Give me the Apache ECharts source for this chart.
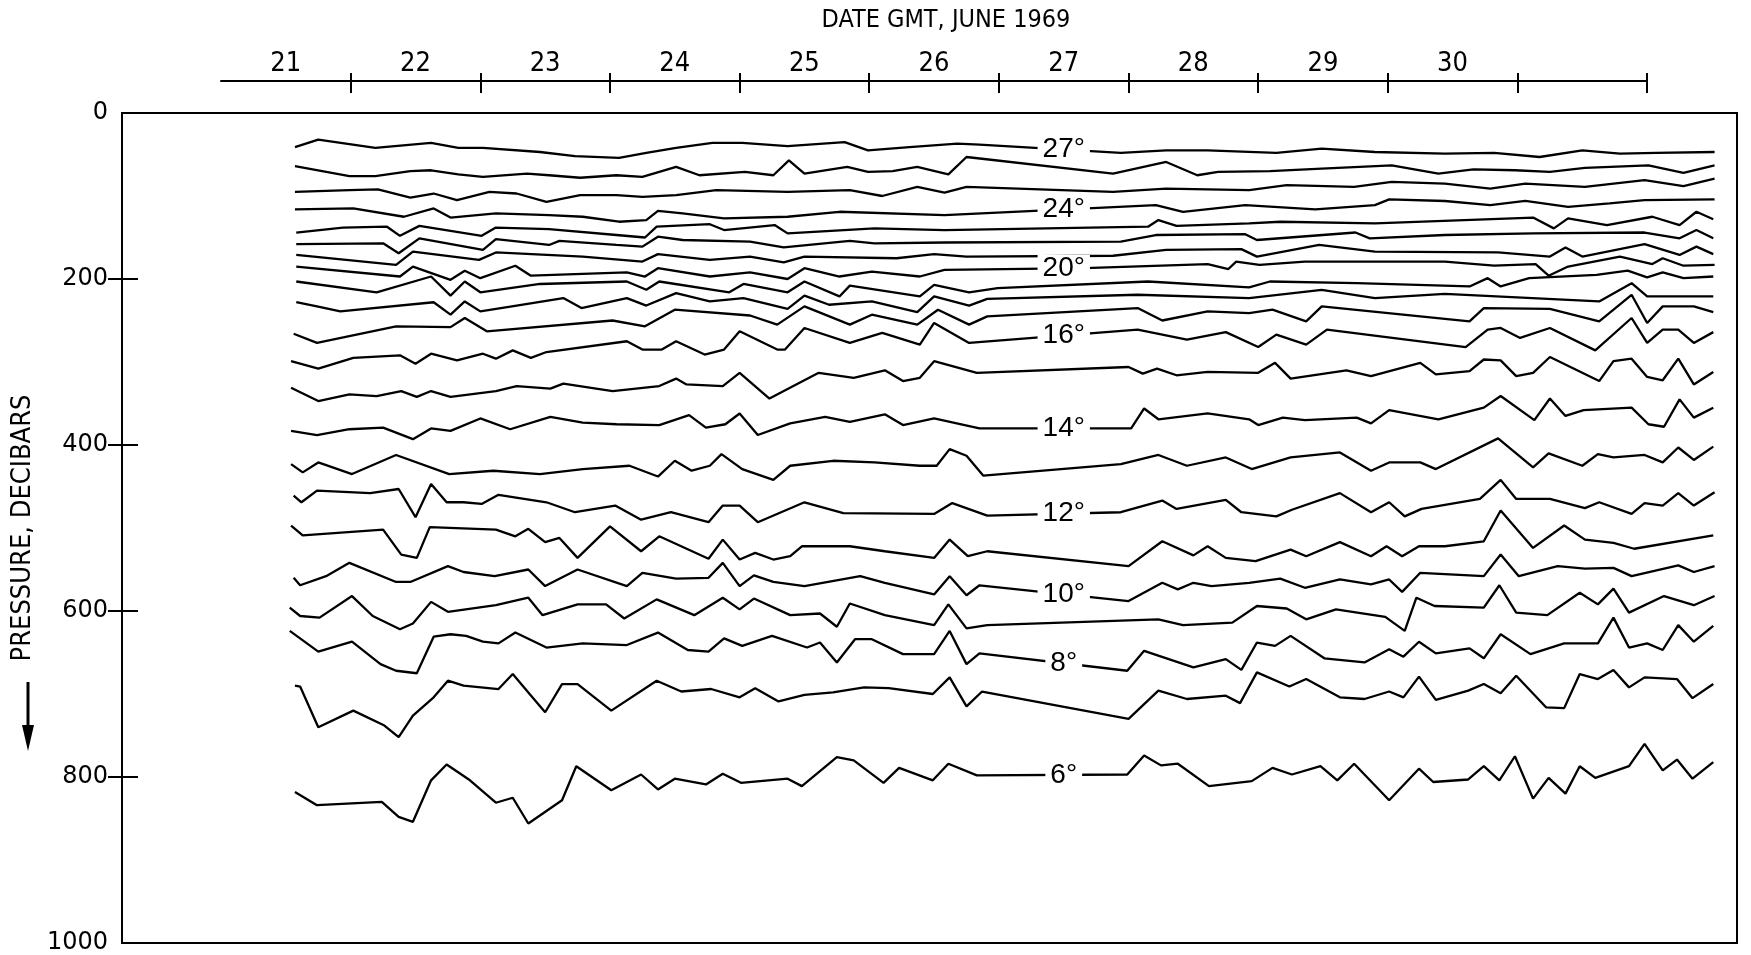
<!DOCTYPE html>
<html><head><meta charset="utf-8">
<script src="https://cdn.jsdelivr.net/npm/echarts@6/dist/echarts.min.js"></script>
<style>html,body{margin:0;padding:0;background:#fff}#c{width:1751px;height:955px}</style>
</head><body><div id="c"></div>
<script>
// ---- tick labels / categories ----
const dayLabels = ['21','22','23','24','25','26','27','28','29','30'];
const dayTicks = [22,23,24,25,26,27,28,29,30,31,32];
const pressureTickMarks = [200,400,600,800];
const labelDay = 27.5;

// ---- isotherm depths: [day of June (GMT), pressure dbar] ----
const iso27 = [[21.57,41],[21.75,32],[22.19,42],[22.62,36],[22.83,42],[23.02,42],[23.46,47],[23.73,52],[24.07,54],[24.28,48],[24.51,42],[24.79,36],[25.02,36],[25.37,40],[25.81,35],[25.99,45],[26.31,41],[26.68,37],[26.85,38],[27.94,48],[28.29,45],[28.61,45],[29.14,48],[29.49,43],[29.90,47],[30.44,49],[30.82,48],[31.17,53],[31.50,45],[31.79,49],[32.07,48],[32.52,47]];
const iso26 = [[21.57,64],[21.99,76],[22.19,76],[22.46,70],[22.62,69],[22.83,74],[23.02,77],[23.36,73],[23.53,75],[23.77,78],[24.05,75],[24.25,77],[24.51,65],[24.69,75],[25.04,71],[25.26,75],[25.38,57],[25.50,73],[25.83,65],[25.99,71],[26.18,70],[26.37,65],[26.61,74],[26.75,53],[27.88,73],[28.29,59],[28.53,75],[28.69,71],[29.09,70],[29.49,67],[30.03,63],[30.39,73],[30.66,68],[30.98,69],[31.25,71],[31.52,66],[32.01,63],[32.28,72],[32.52,63]];
const iso25 = [[21.57,95],[21.99,93],[22.21,92],[22.46,102],[22.64,97],[22.82,105],[23.07,95],[23.28,97],[23.51,107],[23.77,99],[24.05,99],[24.25,101],[24.51,99],[24.82,93],[25.37,95],[25.85,93],[26.10,100],[26.37,89],[26.58,96],[26.75,89],[27.88,95],[28.29,91],[28.93,93],[29.22,87],[29.74,89],[30.03,83],[30.44,85],[30.79,91],[31.06,85],[31.52,89],[31.98,81],[32.28,88],[32.52,79]];
const iso24 = [[21.57,116],[22.02,115],[22.41,125],[22.64,115],[22.77,126],[23.12,121],[23.53,123],[23.79,125],[24.07,131],[24.28,129],[24.37,118],[24.56,121],[24.88,127],[25.37,125],[25.77,119],[26.58,123],[28.21,111],[28.42,119],[28.90,111],[29.44,116],[29.90,111],[30.01,104],[30.44,106],[30.79,111],[31.06,106],[31.39,113],[31.71,109],[31.98,105],[32.52,104]];
const iso23 = [[21.58,144],[21.94,138],[22.28,137],[22.38,148],[22.53,136],[22.77,142],[23.01,148],[23.12,138],[23.53,140],[24.05,147],[24.27,150],[24.36,137],[24.77,134],[24.88,141],[25.27,135],[25.37,145],[26.04,139],[26.58,141],[28.15,137],[28.23,129],[28.37,136],[28.93,133],[29.17,131],[29.90,133],[31.12,126],[31.28,139],[31.39,127],[31.69,135],[32.04,125],[32.25,135],[32.38,119],[32.51,128]];
const iso22 = [[21.58,158],[22.25,157],[22.37,169],[22.53,151],[23.02,165],[23.12,152],[23.53,159],[23.61,154],[24.05,159],[24.25,161],[24.37,149],[24.56,153],[25.08,155],[25.34,162],[25.85,154],[26.04,157],[26.58,156],[27.94,155],[28.21,147],[28.90,146],[28.99,153],[29.75,144],[29.86,151],[30.44,147],[31.12,145],[31.98,144],[32.25,151],[32.38,141],[32.51,151]];
const iso21 = [[21.58,171],[22.35,183],[22.48,167],[22.99,177],[23.12,168],[23.79,173],[24.25,179],[24.37,170],[24.77,177],[25.08,173],[25.34,180],[25.50,173],[26.21,175],[26.50,170],[26.75,173],[27.88,172],[28.29,165],[28.87,164],[28.99,173],[29.47,159],[29.90,167],[30.85,168],[31.25,173],[31.37,162],[31.50,173],[31.98,158],[32.25,171],[32.38,161],[32.51,170]];
const iso20 = [[21.58,185],[22.38,197],[22.48,185],[22.77,201],[22.88,190],[23.00,199],[23.27,184],[23.39,196],[24.13,192],[24.27,197],[24.37,187],[24.77,197],[25.08,192],[25.37,200],[25.50,187],[25.77,197],[26.02,191],[26.39,197],[26.58,189],[27.66,187],[28.61,182],[28.77,188],[28.83,179],[29.01,183],[29.36,179],[30.44,179],[30.82,184],[31.14,182],[31.24,196],[31.39,185],[31.79,173],[32.04,182],[32.12,175],[32.28,184],[32.52,183]];
const iso19 = [[21.58,203],[22.20,216],[22.62,197],[22.77,220],[22.88,203],[23.00,216],[23.46,206],[24.13,203],[24.28,213],[24.38,203],[24.92,216],[25.03,206],[25.37,216],[25.50,203],[25.77,221],[25.85,208],[26.39,221],[26.50,207],[26.77,216],[26.99,211],[28.15,203],[28.93,210],[29.09,203],[29.76,205],[30.63,209],[30.77,199],[30.87,209],[31.09,199],[31.61,195],[31.85,190],[32.00,198],[32.12,192],[32.28,199],[32.51,197]];
const iso18 = [[21.58,228],[21.74,233],[21.92,239],[22.64,228],[22.77,243],[22.88,227],[23.00,239],[23.28,232],[23.64,223],[23.78,235],[24.13,223],[24.28,232],[24.51,217],[24.77,227],[25.03,223],[25.37,236],[25.50,220],[25.69,231],[26.02,227],[26.37,240],[26.50,221],[26.77,232],[26.91,224],[28.07,219],[28.93,223],[29.49,213],[29.90,223],[30.44,218],[31.63,227],[31.88,205],[32.00,221],[32.51,221]];
const iso17 = [[21.56,266],[21.74,277],[22.35,257],[22.77,258],[22.88,247],[23.05,263],[24.02,250],[24.27,257],[24.50,237],[25.08,244],[25.29,255],[25.50,233],[25.85,255],[26.02,243],[26.37,255],[26.53,237],[26.77,255],[26.91,245],[28.07,235],[28.26,250],[28.61,239],[28.93,241],[29.11,237],[29.37,251],[29.49,233],[30.63,251],[30.74,235],[31.25,236],[31.63,251],[31.88,219],[32.00,253],[32.12,233],[32.36,233],[32.51,240]];
const iso16 = [[21.54,299],[21.75,308],[22.02,295],[22.38,292],[22.50,302],[22.62,290],[22.82,298],[23.02,290],[23.12,296],[23.25,286],[23.39,295],[23.51,288],[24.13,275],[24.25,285],[24.40,285],[24.51,275],[24.73,291],[24.88,285],[25.00,263],[25.29,285],[25.35,285],[25.50,259],[25.85,277],[26.10,265],[26.39,279],[26.50,253],[26.77,277],[28.07,261],[28.45,273],[28.75,264],[29.00,282],[29.14,267],[29.37,279],[29.53,261],[30.60,282],[30.77,261],[30.87,259],[31.02,271],[31.25,259],[31.60,286],[31.88,247],[32.00,277],[32.12,261],[32.24,261],[32.36,277],[32.51,264]];
const iso15 = [[21.54,331],[21.75,347],[21.99,339],[22.20,341],[22.39,335],[22.51,342],[22.62,335],[22.77,342],[23.12,335],[23.28,329],[23.54,332],[23.64,326],[24.02,335],[24.38,329],[24.51,320],[24.59,327],[24.87,329],[25.00,313],[25.23,344],[25.61,313],[25.88,319],[26.12,310],[26.26,323],[26.39,319],[26.50,299],[26.83,313],[28.00,306],[28.11,314],[28.22,308],[28.37,316],[28.61,312],[29.00,313],[29.13,301],[29.25,320],[29.68,310],[29.87,317],[30.25,301],[30.37,315],[30.63,311],[30.74,297],[30.87,298],[30.99,317],[31.12,313],[31.25,294],[31.63,323],[31.74,299],[31.88,296],[32.00,318],[32.12,322],[32.24,296],[32.36,327],[32.51,312]];
const iso14 = [[21.54,383],[21.74,388],[21.99,381],[22.25,379],[22.48,393],[22.62,380],[22.77,383],[23.00,368],[23.23,381],[23.54,366],[23.79,373],[24.05,375],[24.38,376],[24.61,364],[24.74,379],[24.89,375],[25.00,362],[25.14,388],[25.39,374],[25.66,366],[25.85,372],[26.12,363],[26.26,376],[26.50,368],[26.85,380],[28.02,380],[28.12,356],[28.23,369],[28.61,362],[28.93,369],[29.00,376],[29.19,367],[29.36,370],[29.76,367],[29.87,374],[30.01,358],[30.39,369],[30.74,355],[30.87,341],[31.13,370],[31.25,344],[31.37,365],[31.51,358],[31.88,355],[32.01,375],[32.13,378],[32.25,345],[32.36,367],[32.51,355]];
const iso13 = [[21.54,423],[21.63,433],[21.75,421],[22.01,435],[22.35,412],[22.76,435],[23.10,431],[23.46,435],[23.79,429],[24.15,425],[24.37,438],[24.50,419],[24.63,431],[24.77,425],[24.86,411],[25.02,429],[25.26,442],[25.39,425],[25.72,419],[26.04,421],[26.39,425],[26.52,425],[26.62,405],[26.75,413],[26.88,437],[27.94,423],[28.23,412],[28.45,425],[28.75,415],[28.95,429],[29.25,415],[29.63,409],[29.87,431],[30.01,421],[30.25,421],[30.37,429],[30.85,392],[31.12,427],[31.24,410],[31.50,425],[31.62,411],[31.74,415],[31.98,412],[32.12,421],[32.24,403],[32.36,418],[32.51,402]];
const iso12 = [[21.56,461],[21.62,469],[21.74,455],[22.15,458],[22.37,453],[22.50,487],[22.62,447],[22.74,469],[22.87,469],[23.01,471],[23.14,460],[23.51,469],[23.73,481],[24.04,473],[24.24,490],[24.47,481],[24.76,493],[24.87,473],[25.00,473],[25.14,493],[25.50,469],[25.80,482],[26.50,483],[26.64,470],[26.91,485],[27.94,481],[28.26,467],[28.37,477],[28.75,466],[28.87,481],[29.14,486],[29.26,478],[29.63,458],[29.87,481],[30.01,469],[30.13,486],[30.26,477],[30.71,465],[30.87,442],[30.99,465],[31.25,465],[31.52,476],[31.63,469],[31.88,483],[31.98,470],[32.12,473],[32.24,458],[32.36,473],[32.52,457]];
const iso11 = [[21.54,497],[21.63,509],[22.25,502],[22.39,532],[22.51,536],[22.61,499],[23.12,502],[23.27,510],[23.37,501],[23.50,517],[23.61,512],[23.75,536],[24.00,498],[24.24,528],[24.38,510],[24.76,537],[24.87,514],[25.00,538],[25.12,530],[25.26,538],[25.39,534],[25.48,522],[25.85,522],[26.12,528],[26.50,536],[26.62,514],[26.76,534],[26.91,528],[28.00,546],[28.26,516],[28.50,533],[28.61,522],[28.75,536],[28.98,540],[29.25,526],[29.37,534],[29.63,517],[29.87,534],[29.99,522],[30.11,534],[30.24,522],[30.44,522],[30.74,516],[30.87,479],[31.12,524],[31.36,497],[31.52,514],[31.74,518],[31.90,525],[32.51,509]];
const iso10 = [[21.56,560],[21.61,569],[21.81,558],[21.99,542],[22.35,565],[22.46,565],[22.75,546],[22.87,553],[23.11,558],[23.37,550],[23.50,570],[23.75,550],[24.13,570],[24.25,554],[24.51,561],[24.76,560],[24.87,542],[25.00,570],[25.11,557],[25.26,565],[25.50,570],[25.93,558],[26.12,566],[26.50,580],[26.62,558],[26.75,581],[26.85,569],[28.00,588],[28.26,566],[28.38,574],[28.50,566],[28.64,570],[28.93,566],[29.17,561],[29.36,572],[29.63,562],[29.87,568],[30.01,562],[30.11,577],[30.25,554],[30.74,558],[30.87,532],[31.01,558],[31.31,546],[31.52,549],[31.74,548],[31.88,558],[32.24,545],[32.36,553],[32.52,546]];
const iso9 = [[21.53,596],[21.61,606],[21.76,608],[22.01,582],[22.17,606],[22.38,622],[22.48,615],[22.62,589],[22.75,601],[23.12,593],[23.37,584],[23.48,605],[23.75,592],[23.97,592],[24.11,609],[24.36,586],[24.65,605],[24.87,584],[25.00,598],[25.11,585],[25.39,605],[25.62,603],[25.75,619],[25.85,591],[26.12,605],[26.50,617],[26.61,592],[26.75,621],[26.91,617],[28.23,610],[28.42,617],[28.80,614],[28.99,594],[29.22,597],[29.37,610],[29.60,598],[29.98,607],[30.13,624],[30.22,584],[30.36,594],[30.74,596],[30.86,569],[30.99,602],[31.23,605],[31.48,578],[31.62,592],[31.74,573],[31.86,602],[32.13,582],[32.36,593],[32.52,582]];
const iso8 = [[21.53,624],[21.75,649],[22.01,637],[22.23,664],[22.35,672],[22.51,675],[22.64,631],[22.77,628],[22.89,630],[23.02,637],[23.14,639],[23.27,626],[23.51,644],[23.79,639],[24.13,641],[24.37,626],[24.60,647],[24.76,649],[24.88,633],[25.02,642],[25.25,630],[25.52,644],[25.62,638],[25.75,662],[25.89,634],[26.02,634],[26.26,652],[26.50,652],[26.62,624],[26.75,664],[26.85,651],[27.99,672],[28.12,648],[28.50,668],[28.75,658],[28.87,671],[28.99,638],[29.13,642],[29.25,630],[29.51,657],[29.82,662],[30.01,646],[30.12,655],[30.24,637],[30.37,651],[30.63,645],[30.74,657],[30.87,628],[31.10,652],[31.36,639],[31.62,639],[31.74,608],[31.86,644],[32.00,639],[32.12,647],[32.24,617],[32.36,637],[32.51,618]];
const iso7 = [[21.57,690],[21.61,691],[21.75,740],[22.02,720],[22.26,738],[22.37,752],[22.48,726],[22.64,704],[22.75,684],[22.87,690],[23.14,694],[23.25,676],[23.38,700],[23.50,722],[23.63,688],[23.75,688],[24.01,720],[24.36,684],[24.55,697],[24.78,694],[25.00,704],[25.12,693],[25.30,709],[25.50,701],[25.72,698],[25.96,692],[26.15,693],[26.49,700],[26.62,680],[26.75,715],[26.87,697],[28.00,730],[28.23,696],[28.45,706],[28.75,702],[28.86,711],[28.99,674],[29.24,691],[29.37,682],[29.63,704],[29.82,706],[30.01,697],[30.12,704],[30.24,679],[30.37,707],[30.62,696],[30.74,688],[30.87,699],[30.99,678],[31.22,716],[31.36,717],[31.48,676],[31.62,682],[31.74,671],[31.86,692],[31.98,680],[32.23,682],[32.35,705],[32.51,688]];
const iso6 = [[21.57,818],[21.74,834],[22.24,830],[22.37,848],[22.48,854],[22.62,804],[22.74,785],[22.92,804],[23.12,831],[23.25,825],[23.37,856],[23.63,828],[23.74,787],[24.01,816],[24.24,797],[24.37,815],[24.50,802],[24.74,809],[24.87,796],[25.01,807],[25.37,802],[25.48,811],[25.75,776],[25.88,780],[26.11,807],[26.23,789],[26.49,804],[26.61,784],[26.83,798],[27.99,797],[28.12,774],[28.25,786],[28.38,784],[28.62,811],[28.95,805],[29.11,789],[29.26,797],[29.48,787],[29.61,804],[29.74,784],[30.01,828],[30.24,790],[30.35,806],[30.62,803],[30.74,787],[30.86,804],[30.98,775],[31.12,826],[31.24,801],[31.37,820],[31.48,787],[31.60,801],[31.86,787],[31.98,760],[32.12,792],[32.23,779],[32.35,802],[32.51,782]];

const isotherms = [
  {t:27,d:iso27,lab:true},{t:26,d:iso26},{t:25,d:iso25},{t:24,d:iso24,lab:true},
  {t:23,d:iso23},{t:22,d:iso22},{t:21,d:iso21},{t:20,d:iso20,lab:true},
  {t:19,d:iso19},{t:18,d:iso18},{t:17,d:iso17},{t:16,d:iso16,lab:true},
  {t:15,d:iso15},{t:14,d:iso14,lab:true},{t:13,d:iso13},{t:12,d:iso12,lab:true},
  {t:11,d:iso11},{t:10,d:iso10,lab:true},{t:9,d:iso9},{t:8,d:iso8,lab:true},
  {t:7,d:iso7},{t:6,d:iso6,lab:true}
];

function interp(arr, x){
  for(let i=0;i<arr.length-1;i++){
    const a=arr[i], b=arr[i+1];
    if(x>=a[0] && x<=b[0]){ return a[1]+(b[1]-a[1])*(x-a[0])/(b[0]-a[0]); }
  }
  return arr[arr.length-1][1];
}

const NARROW = "'Liberation Sans Narrow','DejaVu Sans Condensed','Liberation Sans',sans-serif";
const BLACK = '#000';

const series = isotherms.map(iso => ({
  type:'line', xAxisIndex:0, yAxisIndex:0, data: iso.d, showSymbol:false, symbol:'none',
  lineStyle:{color:BLACK, width:2.3}, silent:true, z:2
}));
series.push({
  type:'scatter', xAxisIndex:0, yAxisIndex:0, symbolSize:1, z:10, silent:true,
  itemStyle:{opacity:0},
  data: isotherms.filter(i=>i.lab).map(i => ({value:[labelDay, interp(i.d, labelDay)], name: i.t + '°'})),
  label:{show:true, position:'inside', formatter: p => p.name, color:BLACK, opacity:1,
    fontFamily:"'Liberation Sans',sans-serif", fontSize:28, backgroundColor:'#fff', padding:[0,5,0,5], lineHeight:27}
});

const chart = echarts.init(document.getElementById('c'), null, {renderer:'canvas'});
chart.setOption({
  animation:false,
  backgroundColor:'#fff',
  grid:[
    {left:122, right:14, top:113, bottom:11, show:true, borderColor:BLACK, borderWidth:2, backgroundColor:'transparent'},
    {left:221, right:104, top:80, height:1}
  ],
  xAxis:[
    {gridIndex:0, type:'value', min:20.236, max:32.693, show:false},
    {gridIndex:1, type:'value', min:21, max:32, position:'top',
      axisLine:{show:true, lineStyle:{color:BLACK, width:2}},
      axisTick:{show:true, length:8, customValues: dayTicks, lineStyle:{color:BLACK, width:2}},
      axisLabel:{show:true, customValues: dayLabels.map((_,i)=>21.5+i), formatter: v => dayLabels[Math.floor(v)-21],
        color:BLACK, fontFamily:NARROW, fontSize:27, margin:3},
      splitLine:{show:false},
      name:'DATE GMT, JUNE 1969', nameLocation:'middle', nameGap:47,
      nameTextStyle:{color:BLACK, fontFamily:NARROW, fontSize:25, padding:[0,0,0,24]}
    },
    {gridIndex:1, type:'value', min:21, max:32, position:'top',
      axisLine:{show:false}, axisLabel:{show:false}, splitLine:{show:false},
      axisTick:{show:true, inside:true, length:13, customValues: dayTicks, lineStyle:{color:BLACK, width:2}}
    }
  ],
  yAxis:[
    {gridIndex:0, type:'value', inverse:true, min:0, max:1000, interval:200,
      axisLine:{show:true, lineStyle:{color:BLACK, width:2}},
      axisTick:{show:true, length:14, customValues: pressureTickMarks, lineStyle:{color:BLACK, width:2}},
      axisLabel:{color:BLACK, fontFamily:"'DejaVu Sans',sans-serif", fontSize:24, margin:14, formatter: v => String(v)},
      splitLine:{show:false},
      name:'PRESSURE, DECIBARS', nameLocation:'middle', nameGap:86, nameRotate:90,
      nameTextStyle:{color:BLACK, fontFamily:NARROW, fontSize:27}
    },
    {gridIndex:0, type:'value', inverse:true, min:0, max:1000, position:'left',
      axisLine:{show:false}, axisLabel:{show:false}, splitLine:{show:false},
      axisTick:{show:true, inside:true, length:16, customValues: pressureTickMarks, lineStyle:{color:BLACK, width:2}}
    },
    {gridIndex:1, type:'value', show:false}
  ],
  graphic:[
    {type:'line', shape:{x1:28, y1:682, x2:28, y2:735}, style:{stroke:BLACK, lineWidth:3}},
    {type:'polygon', shape:{points:[[22,725],[34,725],[28,751]]}, style:{fill:BLACK}}
  ],
  series: series
});
</script></body></html>
